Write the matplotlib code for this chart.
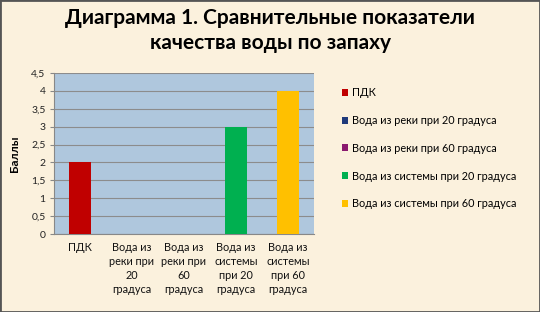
import matplotlib.pyplot as plt
from matplotlib.patches import Rectangle

# данные диаграммы
categories = ['ПДК', 'Вода из\nреки при\n20\nградуса', 'Вода из\nреки при\n60\nградуса',
              'Вода из\nсистемы\nпри 20\nградуса', 'Вода из\nсистемы\nпри 60\nградуса']
legend_labels = ['ПДК', 'Вода из реки при 20 градуса', 'Вода из реки при 60 градуса',
                 'Вода из системы при 20 градуса', 'Вода из системы при 60 градуса']
values = [2, 0, 0, 3, 4]
colors = ['#C00000', '#1F3A7A', '#8A1A6E', '#00B050', '#FFC000']
yticks = [0, 0.5, 1, 1.5, 2, 2.5, 3, 3.5, 4, 4.5]

plt.rcParams['font.family'] = ['Lato', 'DejaVu Sans']

fig = plt.figure(figsize=(5.4, 3.12), dpi=100)
fig.patch.set_facecolor('#FBF1DD')
fig.patches.append(Rectangle((0, 0), 1, 1, transform=fig.transFigure, fill=False,
                             edgecolor='#555555', linewidth=2))

ax = fig.add_axes([0.1, 0.25, 0.481, 0.516])
ax.set_facecolor('#AFC7DD')

for i, (v, c, lab) in enumerate(zip(values, colors, legend_labels)):
    ax.bar(i, v, width=0.42, color=c, label=lab, zorder=3)

ax.set_xlim(-0.5, len(values) - 0.5)
ax.set_ylim(0, 4.5)
ax.set_yticks(yticks)
ax.set_yticklabels([str(t).replace('.', ',').replace(',0', '') for t in yticks],
                   fontsize=7.5, color='#222222')
ax.set_xticks(range(len(categories)))
ax.set_xticklabels(categories, fontsize=7.8, color='#111111', linespacing=1.32)
ax.tick_params(axis='x', length=0, pad=6)
ax.tick_params(axis='y', length=3, color='#888888', pad=3)
ax.grid(axis='y', color='#8C8C8C', linewidth=0.8, zorder=0)
for s in ['top', 'right']:
    ax.spines[s].set_visible(False)
ax.spines['left'].set_color('#888888')
ax.spines['bottom'].set_color('#888888')

ax.set_ylabel('Баллы', fontsize=8.5, fontweight='bold', labelpad=8)

fig.suptitle('Диаграмма 1. Сравнительные показатели\nкачества воды по запаху',
             fontsize=15, fontweight='bold', y=0.975, linespacing=1.3)

fig.legend(loc='upper left', bbox_to_anchor=(0.615, 0.752), frameon=False,
           fontsize=7.8, handlelength=0.6, handleheight=0.6, handletextpad=0.3,
           labelspacing=1.55)

fig.savefig('out.png', dpi=100, facecolor=fig.get_facecolor())
